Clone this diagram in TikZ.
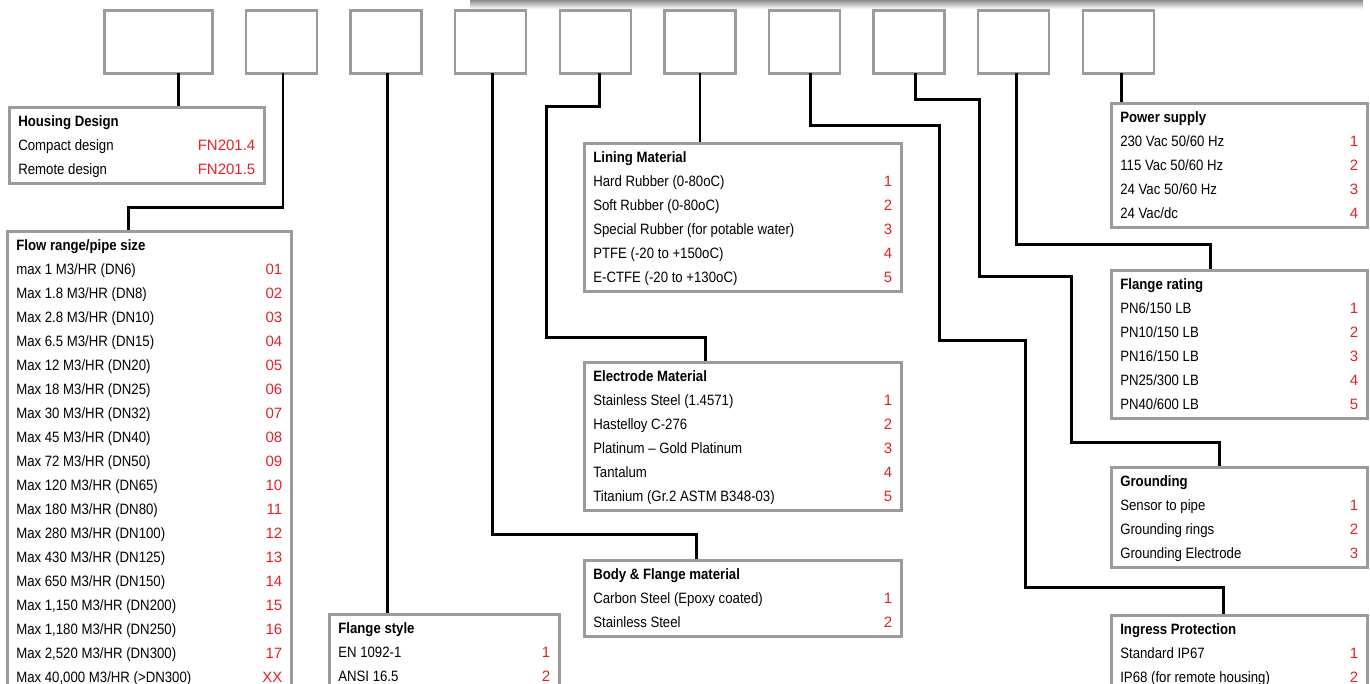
\documentclass[tikz,border=0pt]{standalone}
\usepackage{fontspec}
\setmainfont{Liberation Sans}[FakeStretch=0.88]
\newfontfamily\codefont{Liberation Sans}
\usepackage{array}
\usepackage{tikz}
\usetikzlibrary{matrix}
\definecolor{framegray}{RGB}{155,155,155}
\definecolor{codered}{RGB}{226,32,40}
\newcommand{\optlist}[3]{\begin{tabular*}{#1}{@{}l@{\extracolsep{\fill}}>{\color{codered}\codefont}r@{}}\multicolumn{2}{@{}l@{}}{\textbf{#2}}\\#3\end{tabular*}}

\begin{document}
\begin{tikzpicture}[x=1pt, y=-1pt,
		slot/.style={draw=framegray, line width=2.4pt, minimum width=71pt, minimum height=63pt, inner sep=0pt, outer sep=0pt},
		panel/.style={draw=framegray, line width=2.6pt, inner xsep=9pt, inner ysep=2pt, anchor=north west, font=\fontsize{15}{24}\selectfont},
		wire/.style={draw=black, line width=2.8pt}]
			\useasboundingbox (0,0) rectangle (1370,684);
			\shade[top color=black!45, bottom color=white] (470,0) rectangle (1363,9);
			\matrix (top) [matrix of nodes, nodes in empty cells, nodes={slot}, column sep=31.2pt, inner sep=0pt, anchor=north west] at (103,9)
			{
				|[minimum width=108pt]| & & & & & & & & & \\
			};
			\node[panel] (hd) at (8,106) {\optlist{237pt}{Housing Design}{Compact design & FN201.4\\ Remote design & FN201.5}};
			\node[panel] (fr) at (6,230) {\optlist{266pt}{Flow range/pipe size}{max 1 M3/HR (DN6) & 01\\ Max 1.8 M3/HR (DN8) & 02\\ Max 2.8 M3/HR (DN10) & 03\\ Max 6.5 M3/HR (DN15) & 04\\ Max 12 M3/HR (DN20) & 05\\ Max 18 M3/HR (DN25) & 06\\ Max 30 M3/HR (DN32) & 07\\ Max 45 M3/HR (DN40) & 08\\ Max 72 M3/HR (DN50) & 09\\ Max 120 M3/HR (DN65) & 10\\ Max 180 M3/HR (DN80) & 11\\ Max 280 M3/HR (DN100) & 12\\ Max 430 M3/HR (DN125) & 13\\ Max 650 M3/HR (DN150) & 14\\ Max 1,150 M3/HR (DN200) & 15\\ Max 1,180 M3/HR (DN250) & 16\\ Max 2,520 M3/HR (DN300) & 17\\ Max 40,000 M3/HR (>DN300) & XX}};
			\node[panel] (fs) at (328,613) {\optlist{212pt}{Flange style}{EN 1092-1 & 1\\ ANSI 16.5 & 2}};
			\node[panel] (lm) at (583,142) {\optlist{299pt}{Lining Material}{Hard Rubber (0-80oC) & 1\\ Soft Rubber (0-80oC) & 2\\ Special Rubber (for potable water) & 3\\ PTFE (-20 to +150oC) & 4\\ E-CTFE (-20 to +130oC) & 5}};
			\node[panel] (em) at (583,361) {\optlist{299pt}{Electrode Material}{Stainless Steel (1.4571) & 1\\ Hastelloy C-276 & 2\\ Platinum -- Gold Platinum & 3\\ Tantalum & 4\\ Titanium (Gr.2 ASTM B348-03) & 5}};
			\node[panel] (bf) at (583,559) {\optlist{299pt}{Body \& Flange material}{Carbon Steel (Epoxy coated) & 1\\ Stainless Steel & 2}};
			\node[panel] (ps) at (1110,102) {\optlist{238pt}{Power supply}{230 Vac 50/60 Hz & 1\\ 115 Vac 50/60 Hz & 2\\ 24 Vac 50/60 Hz & 3\\ 24 Vac/dc & 4}};
			\node[panel] (rt) at (1110,269) {\optlist{238pt}{Flange rating}{PN6/150 LB & 1\\ PN10/150 LB & 2\\ PN16/150 LB & 3\\ PN25/300 LB & 4\\ PN40/600 LB & 5}};
			\node[panel] (gr) at (1110,466) {\optlist{238pt}{Grounding}{Sensor to pipe & 1\\ Grounding rings & 2\\ Grounding Electrode & 3}};
			\node[panel] (ip) at (1110,614) {\optlist{238pt}{Ingress Protection}{Standard IP67 & 1\\ IP68 (for remote housing) & 2}};
			% one wire per code position
			\draw[wire] ([xshift=20pt]top-1-1.south) -- ([xshift=20pt]top-1-1.south |- hd.north);
			\draw[wire] ([xshift=1.5pt]top-1-2.south) -- ++(0,134) -| ([xshift=-21pt]fr.north);
			\draw[wire] ([xshift=1.5pt]top-1-3.south) -- ([xshift=1.5pt]top-1-3.south |- fs.north);
			\draw[wire] ([xshift=1.5pt]top-1-4.south) -- ++(0,461) -| ([xshift=-46.5pt]bf.north);
			\draw[wire] ([xshift=4.5pt]top-1-5.south) -- ++(0,33) -| ++(-53,231) -| ([xshift=-37.5pt]em.north);
			\draw[wire] (top-1-6.south) -- (top-1-6.south |- lm.north);
			\draw[wire] ([xshift=6pt]top-1-7.south) -- ++(0,52) -| ++(129,215) -| ++(86,247) -| ([xshift=-16pt]ip.north);
			\draw[wire] ([xshift=6pt]top-1-8.south) -- ++(0,26) -| ++(64,177) -| ++(92,166) -| ([xshift=-20pt]gr.north);
			\draw[wire] ([xshift=2.5pt]top-1-9.south) -- ++(0,171) -| ([xshift=-29pt]rt.north);
			\draw[wire] ([xshift=3.5pt]top-1-10.south) -- ([xshift=3.5pt]top-1-10.south |- ps.north);
		\end{tikzpicture}
\end{document}
